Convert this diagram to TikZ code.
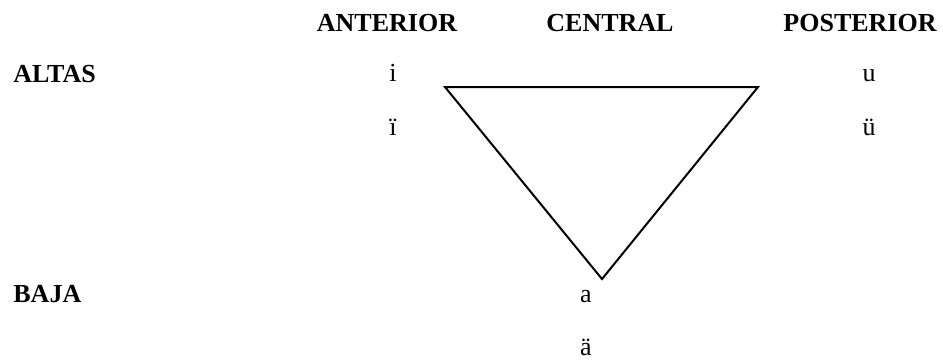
\documentclass[tikz,border=0pt]{standalone}
\usepackage{fontspec}
\setmainfont{Liberation Serif}
\usepackage{tikz}
\usetikzlibrary{positioning}

\begin{document}
\begin{tikzpicture}[
  x=0.5pt, y=-0.5pt,
  font=\fontsize{13}{15}\selectfont,
  head/.style ={font=\fontsize{13}{15}\selectfont\bfseries, anchor=base, inner sep=0pt},
  row/.style  ={head, anchor=base west},
  vow/.style  ={anchor=base, inner sep=0pt},
  tri/.style  ={draw=black, line width=1pt, line join=miter},
]
\useasboundingbox (0,0) rectangle (943,361);

% column heads
\node[head] (ant) at (387,31) {ANTERIOR};
\node[head] (cen) at (610,31) {CENTRAL};
\node[head] (pos) at (860,31) {POSTERIOR};

% row heads
\node[row] (alt) at (13,82)  {ALTAS};
\node[row] (baj) at (13,302) {BAJA};

% vowels
\node[vow] (i)  at (393,81)  {i};
\node[vow] (ii) at (393,135) {ï};
\node[vow] (u)  at (869,81)  {u};
\node[vow] (uu) at (869,135) {ü};
\node[vow] (a)  at (586,302) {a};
\node[vow] (aa) at (586,355) {ä};

% triangle
\draw[tri] (445,87) -- (758,87) -- (602,279) -- cycle;
\end{tikzpicture}
\end{document}
